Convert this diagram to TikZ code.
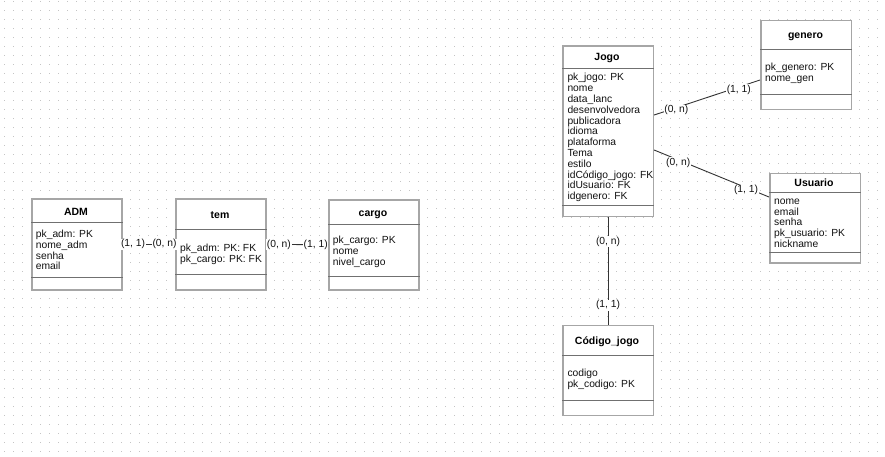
\documentclass[tikz,border=0pt]{standalone}
\usepackage{fontspec}
\setmainfont{Liberation Sans}
\definecolor{boxgray}{HTML}{A6A6A6}
\definecolor{divgray}{HTML}{707070}
\definecolor{dotgray}{HTML}{C4C4C4}
\definecolor{linegray}{HTML}{333333}
\definecolor{txt}{HTML}{111111}
\newcommand{\firstline}{\rule{0pt}{8pt}}
\begin{document}
\begin{tikzpicture}[x=1pt,y=-1pt,
  entity/.style={draw=boxgray, line width=1.6pt, fill=white, anchor=north west, inner sep=0pt},
  divider/.style={draw=divgray, line width=1pt},
  etitle/.style={font=\fontsize{10.5}{12}\selectfont\bfseries, text=black, inner sep=0pt, anchor=base},
  attrs/.style={font=\fontsize{10.3}{10.8}\selectfont, align=left, anchor=north west, inner sep=0pt, text=txt},
  conn/.style={draw=linegray, line width=0.9pt},
  card/.style={font=\fontsize{10.3}{11}\selectfont, fill=white, inner sep=0.6pt, text=txt},
  lowcard/.style={card, yshift=-2.5pt}]

\useasboundingbox (0,0) rectangle (885,456);
\fill[white] (0,0) rectangle (885,456);
\foreach \i in {0,...,97} {\foreach \j in {0,...,50} {\fill[dotgray] (4+9*\i,1+9*\j) rectangle ++(1,1);}}

% ADM
\node[entity, minimum width=90pt, minimum height=91pt] (adm) at (31,198) {};
\draw[divider] (adm.west |- 0,222) -- (adm.east |- 0,222);
\draw[divider] (adm.west |- 0,277) -- (adm.east |- 0,277);
\node[etitle] (admt) at (76,215.3) {ADM};
\node[attrs] (adma) at (35.7,229.3) {\firstline pk\_adm: PK\\nome\_adm\\senha\\email};

% tem
\node[entity, minimum width=90pt, minimum height=91pt] (tem) at (175,198) {};
\draw[divider] (tem.west |- 0,229) -- (tem.east |- 0,229);
\draw[divider] (tem.west |- 0,274) -- (tem.east |- 0,274);
\node[etitle] (temt) at (220,218.7) {tem};
\node[attrs] (tema) at (180,243) {\firstline pk\_adm: PK: FK\\pk\_cargo: PK: FK};

% cargo
\node[entity, minimum width=90pt, minimum height=90pt] (cargo) at (328,199) {};
\draw[divider] (cargo.west |- 0,224.5) -- (cargo.east |- 0,224.5);
\draw[divider] (cargo.west |- 0,276) -- (cargo.east |- 0,276);
\node[etitle] (cargot) at (373,216.7) {cargo};
\node[attrs] (cargoa) at (332.7,235.3) {\firstline pk\_cargo: PK\\nome\\nivel\_cargo};

% Jogo
\node[entity, minimum width=90.5pt, minimum height=170.5pt] (jogo) at (562,45) {};
\draw[divider] (jogo.west |- 0,68.5) -- (jogo.east |- 0,68.5);
\draw[divider] (jogo.west |- 0,205) -- (jogo.east |- 0,205);
\node[etitle] (jogot) at (607,60.7) {Jogo};
\node[attrs] (jogoa) at (567.3,72.7) {\firstline pk\_jogo: PK\\nome\\data\_lanc\\desenvolvedora\\publicadora\\idioma\\plataforma\\Tema\\estilo\\idCódigo\_jogo: FK\\idUsuario: FK\\idgenero: FK};

% genero
\node[entity, minimum width=90.5pt, minimum height=89pt] (genero) at (760,19.5) {};
\draw[divider] (genero.west |- 0,49) -- (genero.east |- 0,49);
\draw[divider] (genero.west |- 0,94) -- (genero.east |- 0,94);
\node[etitle] (generot) at (805.5,38.3) {genero};
\node[attrs] (generoa) at (765,62.7) {\firstline pk\_genero: PK\\nome\_gen};

% Usuario
\node[entity, minimum width=90.5pt, minimum height=89.5pt] (usuario) at (769,172.5) {};
\draw[divider] (usuario.west |- 0,192.5) -- (usuario.east |- 0,192.5);
\draw[divider] (usuario.west |- 0,252) -- (usuario.east |- 0,252);
\node[etitle] (usuariot) at (814,186.7) {Usuario};
\node[attrs] (usuarioa) at (774,196) {\firstline nome\\email\\senha\\pk\_usuario: PK\\nickname};

% Codigo_jogo
\node[entity, minimum width=90.5pt, minimum height=90pt] (codigo) at (562,324.5) {};
\draw[divider] (codigo.west |- 0,355) -- (codigo.east |- 0,355);
\draw[divider] (codigo.west |- 0,400) -- (codigo.east |- 0,400);
\node[etitle] (codigot) at (607,344) {Código\_jogo};
\node[attrs] (codigoa) at (567.3,368) {\firstline codigo\\pk\_codigo: PK};

% connectors
\draw[conn] (adm.east) -- node[card, pos=0.2] {(1, 1)} node[card, pos=0.8] {(0, n)} (tem.west);
\draw[conn] (tem.east) -- node[card, pos=0.2] {(0, n)} node[card, pos=0.8] {(1, 1)} (cargo.west);
\draw[conn] ([yshift=-70pt]jogo.north east) -- node[lowcard, pos=0.21] {(0, n)} node[lowcard, pos=0.8] {(1, 1)} ([yshift=-60.5pt]genero.north west);
\draw[conn] ([yshift=-105pt]jogo.north east) -- node[lowcard, pos=0.21] {(0, n)} node[lowcard, pos=0.8] {(1, 1)} ([yshift=-24.5pt]usuario.north west);
\draw[conn] (jogo.south) -- node[card, pos=0.23] {(0, n)} node[card, pos=0.82] {(1, 1)} (codigo.north);
\end{tikzpicture}
\end{document}
